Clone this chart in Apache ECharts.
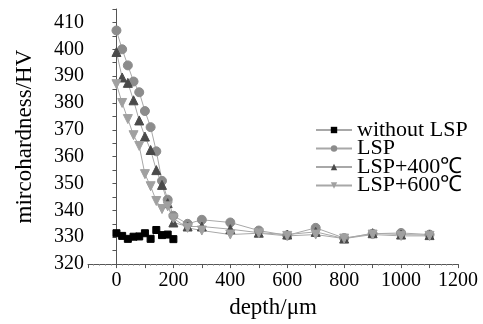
<!DOCTYPE html>
<html><head><meta charset="utf-8">
<script src="https://cdn.jsdelivr.net/npm/echarts@6/dist/echarts.min.js"></script>
<style>html,body{margin:0;padding:0;background:#fff}#c{width:483px;height:324px}</style>
</head><body><div id="c"></div>
<script>
var depthShort = [0,20,40,60,80,100,120,140,160,180,200];
var depthLong = [0,20,40,60,80,100,120,140,160,180,200,250,300,400,500,600,700,800,900,1000,1100];
var withoutLSP = [331.5,330.5,329.4,330.2,330.3,331.5,329.4,332.7,330.8,331,329.3];
var lsp = [407,400,394,388,384,377,371,362,351,344,338,335,336.5,335.5,332.5,330.7,333.5,329.7,331.3,331.6,331];
var lsp400 = [399,389.5,387.5,381,373.5,367.5,362.5,355,349.5,342.7,335.5,334,334,333,331.7,331,332,329.5,331.5,331,330.8];
var lsp600 = [387,380,374,368,364,353.5,349,343.5,340.5,341.5,337,333.5,332.5,331,331.5,330.5,331,329.5,331,330.5,330.5];
var seriesNames = ['without LSP','LSP','LSP+400℃','LSP+600℃'];

function pairs(xs, ys){ return xs.map(function(x,i){return [x, ys[i]];}); }
var font = 'Liberation Serif';
var chart = echarts.init(document.getElementById('c'));
function mk(name, data, symbol, color, rot, size){
  return {name:name, type:'line', data:data, symbol:symbol, symbolSize:size, symbolRotate:rot||0,
    lineStyle:{color:'#a8a8a8', width:1}, itemStyle:{color:color, borderColor:color}, animation:false, z: 3};
}
chart.setOption({
  animation:false,
  textStyle:{fontFamily:font},
  grid:{left:88, right:25, top:9, bottom:56.5},
  legend:{orient:'vertical', left:315, top:119, padding:0, itemWidth:36, itemHeight:8, itemGap:-3.5,
    textStyle:{fontFamily:font, fontSize:22, color:'#000'},
    data:seriesNames},
  xAxis:{type:'value', min:-100, max:1200, interval:100,
    name:'depth/μm', nameLocation:'middle', nameGap:29,
    nameTextStyle:{fontFamily:font, fontSize:23, color:'#000'},
    axisLine:{lineStyle:{color:'#555', width:1}},
    axisTick:{length:4, lineStyle:{color:'#555'}},
    minorTick:{show:true, splitNumber:5, length:1.5, lineStyle:{color:'#888'}},
    splitLine:{show:false},
    axisLabel:{fontFamily:font, fontSize:20, color:'#000', margin:7,
      formatter:function(v){ return (v>=0 && v%200===0) ? String(v) : ''; }}},
  yAxis:{type:'value', min:320, max:415, interval:5,
    name:'mircohardness/HV', nameLocation:'middle', nameGap:52,
    nameTextStyle:{fontFamily:font, fontSize:23, color:'#000'},
    axisLine:{show:true, lineStyle:{color:'#555', width:1}},
    axisTick:{show:true, length:4, lineStyle:{color:'#555'}},
    splitLine:{show:false},
    axisLabel:{fontFamily:font, fontSize:20, color:'#000', margin:4,
      formatter:function(v){ return (v%10===0) ? String(v) : ''; }}},
  series:[
    mk(seriesNames[0], pairs(depthShort, withoutLSP), 'rect', '#000', 0, 7),
    mk(seriesNames[1], pairs(depthLong, lsp), 'circle', '#8c8c8c', 0, 9),
    mk(seriesNames[2], pairs(depthLong, lsp400), 'triangle', '#4a4a4a', 0, 9),
    mk(seriesNames[3], pairs(depthLong, lsp600), 'triangle', '#a0a0a0', 180, 9)
  ]
});
</script></body></html>
